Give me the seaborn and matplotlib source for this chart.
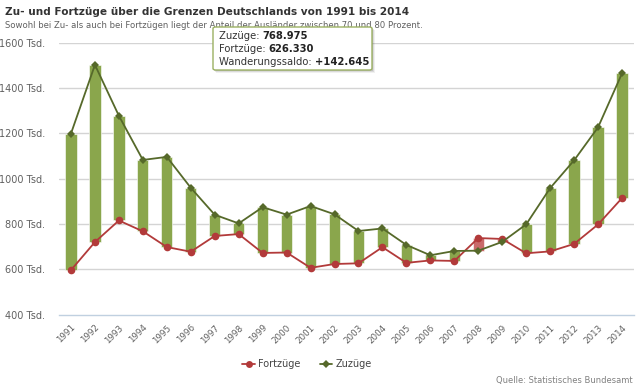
import matplotlib.pyplot as plt
import numpy as np
import pandas as pd
import seaborn as sns
from matplotlib.lines import Line2D
from matplotlib.patches import FancyBboxPatch

years = list(range(1991, 2015))
zuzuege = [1198978, 1502198, 1277408, 1082553, 1096048, 959691, 840633, 802456,
           874023, 841158, 879217, 842543, 768975, 780175, 707352, 661855,
           680766, 682146, 721014, 798282, 958299, 1080936, 1226493, 1464724]
fortzuege = [596455, 720127, 815312, 767555, 698113, 677494, 746969, 755358,
             672048, 674038, 606494, 623255, 626330, 697632, 628399, 639064,
             636854, 737889, 733796, 670605, 678969, 711991, 797886, 914241]
y_ticks = [400, 600, 800, 1000, 1200, 1400, 1600]

GREEN_BAR = "#8aa64c"
RED_BAR = "#c96a6a"
GREEN_LINE = "#56692a"
RED_LINE = "#b23a3a"
GRAY_TXT = "#606060"

sns.set_theme(style="white")
plt.rcParams["font.family"] = ["DejaVu Sans"]

df = pd.DataFrame({"x": np.arange(len(years)),
                   "Zuzüge": np.array(zuzuege) / 1000,
                   "Fortzüge": np.array(fortzuege) / 1000})

fig = plt.figure(figsize=(6.4, 3.9), dpi=100)
ax = fig.add_axes([59 / 640, 1 - 314.6 / 390, 575 / 640, (314.6 - 42.7) / 390])

# floating bars between Fortzüge and Zuzüge
low = df[["Zuzüge", "Fortzüge"]].min(axis=1)
high = df[["Zuzüge", "Fortzüge"]].max(axis=1)
colors = [GREEN_BAR if z >= f else RED_BAR for z, f in zip(df["Zuzüge"], df["Fortzüge"])]
ax.bar(df["x"], high - low, bottom=low, width=0.47, color=colors,
       edgecolor="white", linewidth=0.4, zorder=2)

sns.lineplot(data=df, x="x", y="Fortzüge", ax=ax, color=RED_LINE, lw=1.3,
             marker="o", markersize=5.5, markeredgewidth=0, zorder=3)
sns.lineplot(data=df, x="x", y="Zuzüge", ax=ax, color=GREEN_LINE, lw=1.3,
             marker="D", markersize=3.8, markeredgewidth=0, zorder=4)

ax.set_xlim(-0.5, len(years) - 0.5)
ax.set_ylim(400, 1600)
ax.set_yticks(y_ticks)
ax.set_yticklabels([f"{v} Tsd." for v in y_ticks], color=GRAY_TXT, fontsize=7)
ax.tick_params(axis="y", length=0, pad=10)
for v in y_ticks[1:]:
    ax.axhline(v, color="#d4d4d4", lw=1, zorder=1)

ax.set_xticks(df["x"])
ax.set_xticklabels(years, rotation=45, ha="right", rotation_mode="anchor",
                   fontsize=6.3, color=GRAY_TXT)
ax.tick_params(axis="x", length=0, pad=6)
ax.set_xticks(np.arange(-0.5, len(years)), minor=True)
ax.tick_params(axis="x", which="minor", length=5, color="#c0d0e0", width=1)
ax.set_xlabel("")
ax.set_ylabel("")
for s in ["top", "right", "left"]:
    ax.spines[s].set_visible(False)
ax.spines["bottom"].set_color("#c0d0e0")
ax.spines["bottom"].set_linewidth(1)

fig.text(5 / 640, 1 - 12 / 390, "Zu- und Fortzüge über die Grenzen Deutschlands von 1991 bis 2014",
         fontsize=7.6, fontweight="bold", color="#333333", va="center")
fig.text(5 / 640, 1 - 26 / 390,
         "Sowohl bei Zu- als auch bei Fortzügen liegt der Anteil der Ausländer zwischen 70 und 80 Prozent.",
         fontsize=6.1, color=GRAY_TXT, va="center")

# tooltip with a soft shadow
for off, alpha in [(3, 0.06), (2, 0.09), (1, 0.12)]:
    fig.patches.append(FancyBboxPatch((213 / 640 + off / 640, 1 - (70 + off) / 390), 159 / 640, 43 / 390,
                                      boxstyle="square,pad=0", transform=fig.transFigure,
                                      facecolor="black", edgecolor="none", alpha=alpha, zorder=9))
box = FancyBboxPatch((213 / 640, 1 - 70 / 390), 159 / 640, 43 / 390,
                     boxstyle="round,pad=0,rounding_size=0.004", transform=fig.transFigure,
                     facecolor="white", edgecolor="#9bb062", lw=1, zorder=10)
fig.patches.append(box)
tip = [("Zuzüge: ", "768.975"), ("Fortzüge: ", "626.330"), ("Wanderungssaldo: ", "+142.645")]
for i, (lab, val) in enumerate(tip):
    t = fig.text(219 / 640, 1 - (36 + i * 13) / 390, lab, fontsize=7.2, color="#333333",
                 va="center", zorder=11)
    fig.canvas.draw()
    bb = t.get_window_extent()
    fig.text(bb.x1 / 640, 1 - (36 + i * 13) / 390, val, fontsize=7.2, fontweight="bold",
             color="#222222", va="center", zorder=11)

handles = [Line2D([], [], color=RED_LINE, marker="o", markersize=5, lw=1.3, markeredgewidth=0),
           Line2D([], [], color=GREEN_LINE, marker="D", markersize=3.8, lw=1.3, markeredgewidth=0)]
fig.legend(handles, ["Fortzüge", "Zuzüge"], loc="center", bbox_to_anchor=(307 / 640, 1 - 364 / 390),
           ncol=2, frameon=False, fontsize=7, handlelength=1.3, handletextpad=0.3,
           columnspacing=2, labelcolor="#444444")

fig.text(633 / 640, 1 - 381 / 390, "Quelle: Statistisches Bundesamt", fontsize=6,
         color="#808080", ha="right", va="center")

fig.savefig("out.png", dpi=100)
